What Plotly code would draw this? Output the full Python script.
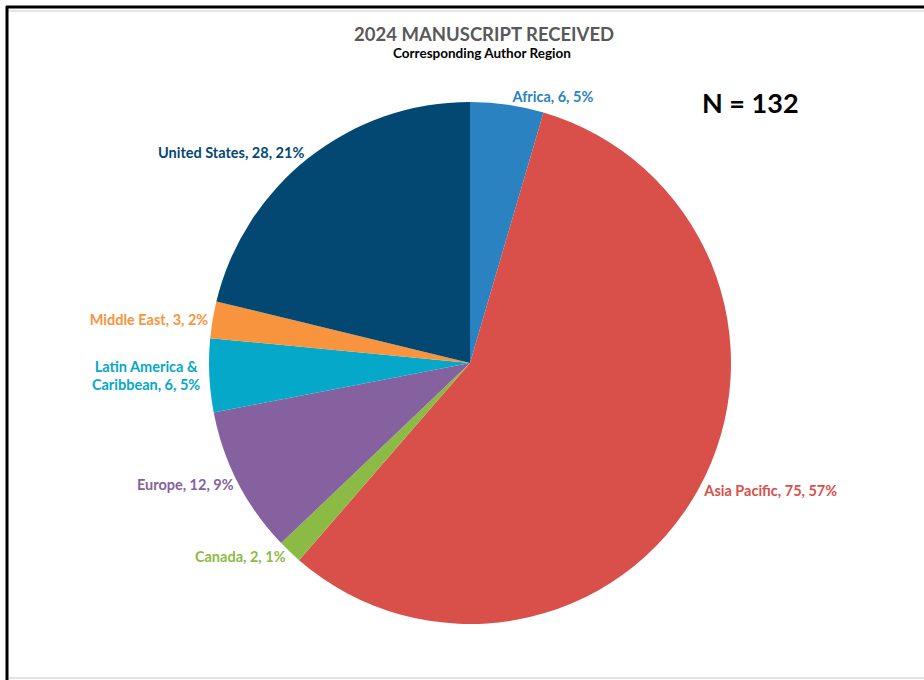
import plotly.graph_objects as go

regions = ["Africa", "Asia Pacific", "Canada", "Europe",
           "Latin America &<br>Caribbean", "Middle East", "United States"]
counts = [6, 75, 2, 12, 6, 3, 28]
pct_labels = ["5%", "57%", "1%", "9%", "5%", "2%", "21%"]
colors = ["#2B82C0", "#D94F4A", "#8CBB45", "#8561A0", "#05A8C8", "#F8943D", "#034872"]
total_n = 132

W, H = 924, 680
cx, cy, r = 470, 363, 261

fig = go.Figure(go.Pie(
    labels=regions,
    values=counts,
    customdata=pct_labels,
    texttemplate="%{label}, %{value}, %{customdata}",
    textposition="outside",
    textfont=dict(family="Lato", size=14.5, color=colors, weight="bold"),
    marker=dict(colors=colors, line=dict(width=0)),
    sort=False,
    direction="clockwise",
    rotation=0,
    hole=0,
    showlegend=False,
    domain=dict(x=[(cx - r) / W, (cx + r) / W], y=[1 - (cy + r) / H, 1 - (cy - r) / H]),
))

def note(text, x, y, size, color):
    fig.add_annotation(text=text, x=x / W, y=1 - y / H, xref="paper", yref="paper",
                       xanchor="center", yanchor="middle", showarrow=False,
                       font=dict(family="Lato", size=size, color=color))

note("<b>2024 MANUSCRIPT RECEIVED</b>", 484, 34, 18.5, "#595959")
note("<b>Corresponding Author Region</b>", 482, 53, 13.5, "#000000")
note(f"<b>N = {total_n}</b>", 750, 102, 27, "#000000")

# frame
fig.add_shape(type="line", xref="paper", yref="paper", x0=6 / W, x1=1.01, y0=1 - 7 / H, y1=1 - 7 / H,
              line=dict(color="#000000", width=3))
fig.add_shape(type="line", xref="paper", yref="paper", x0=8 / W, x1=1.01, y0=1 - 11 / H, y1=1 - 11 / H,
              line=dict(color="#DDDDDD", width=1.5))
fig.add_shape(type="line", xref="paper", yref="paper", x0=7 / W, x1=7 / W, y0=-0.01, y1=1 - 6 / H,
              line=dict(color="#000000", width=3))
fig.add_shape(type="line", xref="paper", yref="paper", x0=9 / W, x1=1.01, y0=2 / H, y1=2 / H,
              line=dict(color="#E2E2E2", width=2))

fig.update_layout(
    width=W, height=H,
    margin=dict(l=0, r=0, t=0, b=0),
    paper_bgcolor="white", plot_bgcolor="white",
    font=dict(family="Lato"),
)

fig.write_html("out.html", config={"displayModeBar": False},
               post_script="document.body.style.margin='0';")
